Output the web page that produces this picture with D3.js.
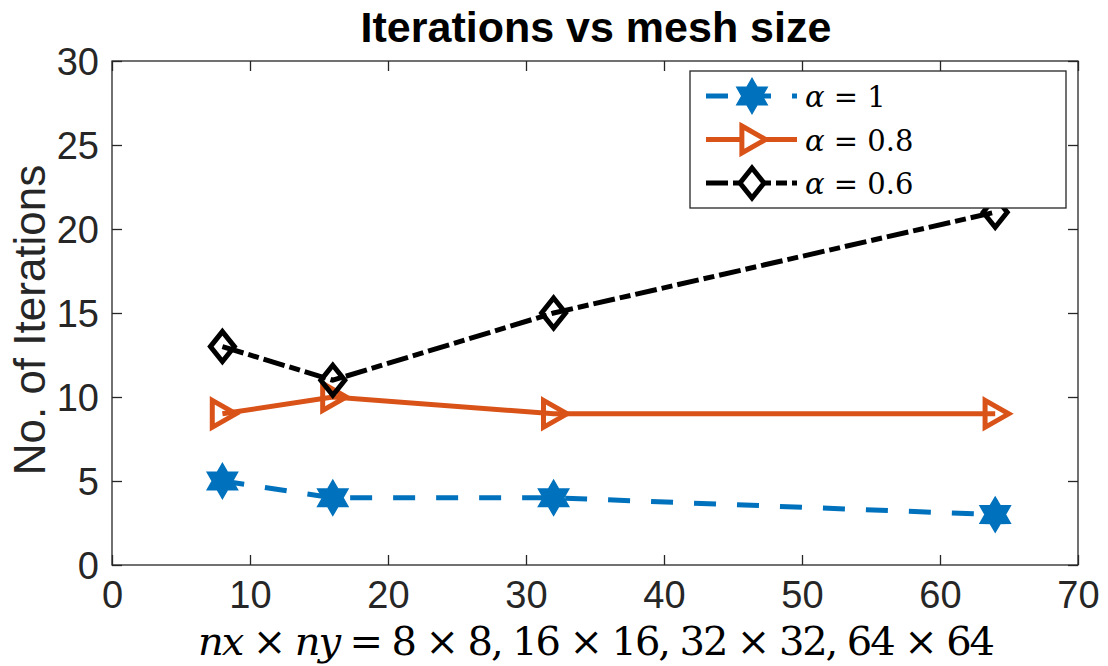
<!DOCTYPE html>
<html lang="en">
<head>
    <meta charset="UTF-8">
    <title>Iterations vs mesh size</title>
    <script src="https://d3js.org/d3.v7.min.js"></script>
    <style>
        body { margin: 0; background: #fff; }
        svg text { font-family: "Liberation Sans", Helvetica, Arial, sans-serif; fill: #262626; }
    </style>
</head>
<body>
<div id="chart"></div>
<script>
    // data
    var meshSizes = [8, 16, 32, 64];
    var iterAlpha1 = [5, 4, 4, 3];
    var iterAlpha08 = [9, 10, 9, 9];
    var iterAlpha06 = [13, 11, 15, 21];
    var seriesNames = ["1", "0.8", "0.6"];
    var xTicks = [0, 10, 20, 30, 40, 50, 60, 70];
    var yTicks = [0, 5, 10, 15, 20, 25, 30];

    var W = 1108, H = 666;
    var pL = 112, pR = 1078, pT = 61, pB = 565;
    var serif = '"DejaVu Serif", "Liberation Serif", serif';

    var svg = d3.select("#chart").append("svg")
        .attr("width", W).attr("height", H);

    var x = d3.scaleLinear().domain([0, 70]).range([pL, pR]);
    var y = d3.scaleLinear().domain([0, 30]).range([pB, pT]);

    // box + ticks (inward, like matlab)
    var axes = svg.append("g");
    axes.append("rect")
        .attr("x", pL).attr("y", pT)
        .attr("width", pR - pL).attr("height", pB - pT)
        .attr("fill", "none").attr("stroke", "#262626").attr("stroke-width", 1.3);

    var xb = axes.append("g").attr("transform", "translate(0," + pB + ")")
        .call(d3.axisBottom(x).tickValues(xTicks).tickSize(-10).tickPadding(0));
    var xt = axes.append("g").attr("transform", "translate(0," + pT + ")")
        .call(d3.axisTop(x).tickValues(xTicks).tickSize(-10).tickFormat(""));
    var yl = axes.append("g").attr("transform", "translate(" + pL + ",0)")
        .call(d3.axisLeft(y).tickValues(yTicks).tickSize(-10).tickPadding(0));
    var yr = axes.append("g").attr("transform", "translate(" + pR + ",0)")
        .call(d3.axisRight(y).tickValues(yTicks).tickSize(-10).tickFormat(""));
    [xb, xt, yl, yr].forEach(function (g) {
        g.select(".domain").remove();
        g.selectAll("line").attr("stroke", "#262626").attr("stroke-width", 1.3);
        g.selectAll("text").style("font-size", "38px").style("fill", "#262626");
    });
    xb.selectAll("text").attr("y", 43).attr("dy", null);
    yl.selectAll("text").attr("x", -13).attr("dy", "0.36em");

    // marker shapes
    function hexagram(r) {
        var pts = [];
        for (var i = 0; i < 12; i++) {
            var a = -Math.PI / 2 + i * Math.PI / 6;
            var rr = (i % 2 === 0) ? r : r * 0.58;
            pts.push([rr * Math.cos(a), rr * Math.sin(a)]);
        }
        return "M" + pts.map(function (p) { return p.join(","); }).join("L") + "Z";
    }
    function triRight(r) {
        return "M" + (-r * 0.75) + "," + (-r) + "L" + (r) + ",0L" + (-r * 0.75) + "," + r + "Z";
    }
    function diamond(r) {
        return "M0," + (-r) + "L" + (r * 0.8) + ",0L0," + r + "L" + (-r * 0.8) + ",0Z";
    }

    var series = [
        { name: seriesNames[0], vals: iterAlpha1, color: "#0072BD", dash: "22,21", marker: hexagram(14), fill: "#0072BD" },
        { name: seriesNames[1], vals: iterAlpha08, color: "#D95319", dash: null, marker: triRight(13.5), fill: "none" },
        { name: seriesNames[2], vals: iterAlpha06, color: "#000000", dash: "22,5,11,5", marker: diamond(15), fill: "none" }
    ];

    var line = d3.line().x(function (d) { return x(d[0]); }).y(function (d) { return y(d[1]); });

    series.forEach(function (s) {
        var pts = meshSizes.map(function (m, i) { return [m, s.vals[i]]; });
        svg.append("path")
            .attr("d", line(pts))
            .attr("fill", "none")
            .attr("stroke", s.color)
            .attr("stroke-width", 5)
            .attr("stroke-dasharray", s.dash);
        svg.selectAll(null).data(pts).enter().append("path")
            .attr("d", s.marker)
            .attr("transform", function (d) { return "translate(" + x(d[0]) + "," + y(d[1]) + ")"; })
            .attr("fill", s.fill)
            .attr("stroke", s.color)
            .attr("stroke-width", 5)
            .attr("stroke-linejoin", "miter");
    });

    // legend
    var lg = svg.append("g");
    lg.append("rect")
        .attr("x", 690).attr("y", 71).attr("width", 376).attr("height", 137)
        .attr("fill", "#fff").attr("stroke", "#262626").attr("stroke-width", 1.3);
    series.forEach(function (s, i) {
        var ly = 96 + i * 43.5;
        lg.append("line")
            .attr("x1", 706).attr("x2", 797).attr("y1", ly).attr("y2", ly)
            .attr("stroke", s.color).attr("stroke-width", 5)
            .attr("stroke-dasharray", s.dash);
        lg.append("path")
            .attr("d", s.marker)
            .attr("transform", "translate(752," + ly + ")")
            .attr("fill", s.fill === "none" ? "#fff" : s.fill)
            .attr("stroke", s.color).attr("stroke-width", 5);
        var t = lg.append("text")
            .attr("x", 805).attr("y", ly + 11)
            .style("font-family", serif).style("fill", "#000")
            .style("font-size", "29px");
        t.append("tspan").style("font-style", "italic").text("α");
        t.append("tspan").text(" = " + s.name);
    });

    // title
    svg.append("text")
        .attr("x", 596).attr("y", 42)
        .attr("text-anchor", "middle")
        .style("font-size", "43px").style("font-weight", "bold")
        .style("fill", "#000")
        .text("Iterations vs mesh size");

    // y label
    svg.append("text")
        .attr("transform", "translate(45," + 320 + ") rotate(-90)")
        .attr("text-anchor", "middle")
        .style("font-size", "44px")
        .text("No. of Iterations");

    // x label (latex-ish)
    var xl = svg.append("text")
        .attr("x", 198).attr("y", 655)
        .attr("textLength", 797).attr("lengthAdjust", "spacing")
        .style("font-family", serif).style("fill", "#000")
        .style("font-size", "40px");
    xl.append("tspan").style("font-style", "italic").text("nx");
    xl.append("tspan").text(" × ");
    xl.append("tspan").style("font-style", "italic").text("ny");
    xl.append("tspan").text(" = 8 × 8, 16 × 16, 32 × 32, 64 × 64");
</script>
</body>
</html>
